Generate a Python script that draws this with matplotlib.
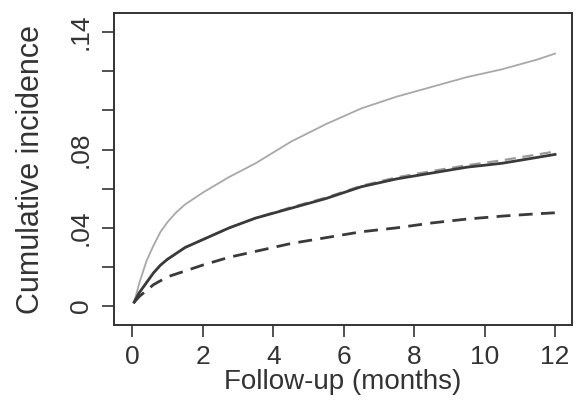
import matplotlib
matplotlib.use("Agg")
import matplotlib.pyplot as plt

plt.rcParams["font.family"] = ["Liberation Sans", "DejaVu Sans"]

# Follow-up time in months and cumulative incidence for each group
months = [0.05, 0.2, 0.4, 0.6, 0.8, 1.0, 1.25, 1.5, 2.0, 2.75, 3.5, 4.5, 5.5, 6.5, 7.5, 8.5,
          9.5, 10.5, 11.5, 12.0]
inc_light = [0.002, 0.012, 0.023, 0.031, 0.038, 0.043, 0.048, 0.052, 0.058, 0.066, 0.073, 0.084,
             0.093, 0.101, 0.107, 0.112, 0.117, 0.121, 0.126, 0.129]
inc_dark = [0.002, 0.007, 0.012, 0.017, 0.021, 0.024, 0.027, 0.030, 0.034, 0.040, 0.045, 0.050,
            0.055, 0.061, 0.065, 0.068, 0.071, 0.073, 0.076, 0.0775]
inc_grey_dash = [0.002, 0.007, 0.012, 0.017, 0.021, 0.024, 0.027, 0.030, 0.034, 0.040, 0.045,
                 0.0505, 0.0555, 0.0615, 0.0658, 0.069, 0.072, 0.0745, 0.0775, 0.079]
inc_dark_dash = [0.002, 0.005, 0.008, 0.011, 0.013, 0.015, 0.0165, 0.018, 0.021, 0.025, 0.028,
                 0.032, 0.035, 0.038, 0.040, 0.0425, 0.0445, 0.046, 0.0472, 0.0477]

x_ticks = [0, 2, 4, 6, 8, 10, 12]
y_ticks = [0, 0.02, 0.04, 0.06, 0.08, 0.10, 0.12, 0.14]
y_labels = ["0", "", ".04", "", ".08", "", "", ".14"]

fig = plt.figure(figsize=(5.76, 4.08), dpi=100)
ax = fig.add_axes([0.198, 0.203, 0.795, 0.765])

ax.plot(months, inc_light, color="#a8a8a8", lw=1.3)
ax.plot(months, inc_grey_dash, color="#9a9a9a", lw=1.6, ls=(0, (5, 3)))
ax.plot(months, inc_dark, color="#3a3a3a", lw=2.0)
ax.plot(months, inc_dark_dash, color="#3a3a3a", lw=2.0, ls=(0, (5, 3)))

ax.set_xlim(-0.52, 12.48)
ax.set_ylim(-0.0097, 0.1497)
ax.set_xticks(x_ticks)
ax.set_yticks(y_ticks)
ax.set_yticklabels(y_labels, rotation=90, va="center")

for s in ax.spines.values():
    s.set_color("#333333")
    s.set_linewidth(1.4)
ax.tick_params(length=8.5, width=1.2, color="#333333", labelcolor="#333333",
               labelsize=19)
ax.tick_params(axis="x", pad=6)
ax.tick_params(axis="y", pad=7)

ax.set_xlabel("Follow-up (months)", fontsize=20, color="#333333", labelpad=0)
ax.set_ylabel("Cumulative incidence", fontsize=22, color="#333333", labelpad=16)

fig.savefig("out.png", dpi=100)
